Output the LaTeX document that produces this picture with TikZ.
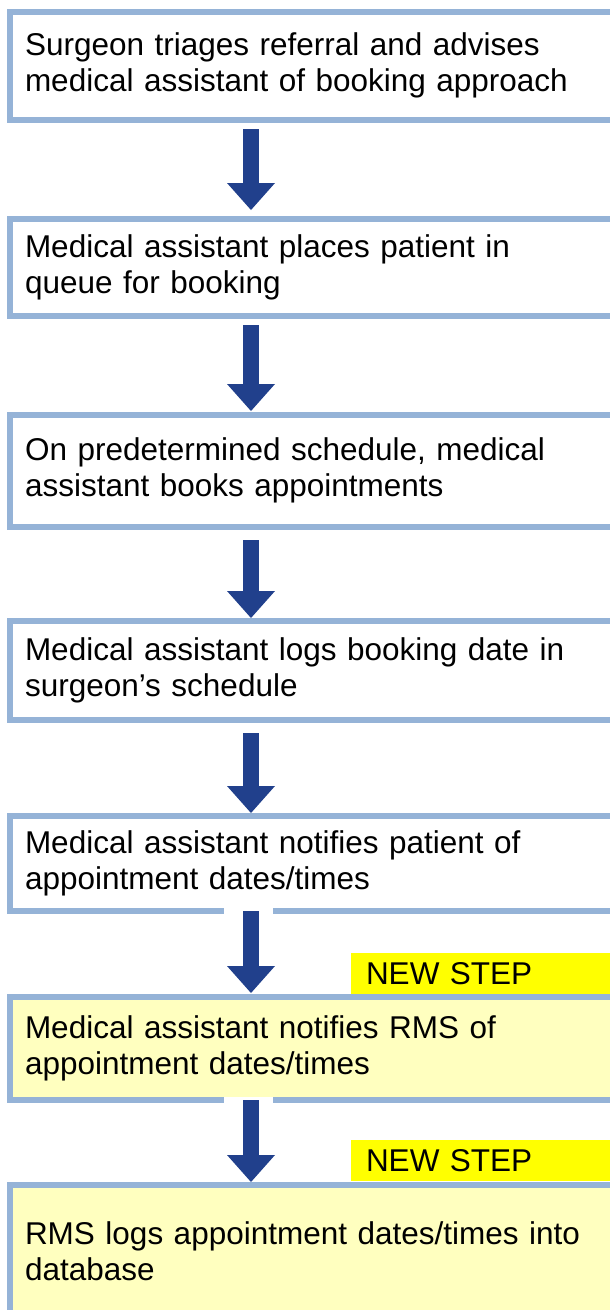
\documentclass[tikz,border=0pt]{standalone}
\usepackage{fontspec}
\setmainfont{Liberation Sans}
\usetikzlibrary{arrows.meta}

\definecolor{boxblue}{RGB}{149,179,215}
\definecolor{arrowblue}{RGB}{33,64,140}
\definecolor{paleyellow}{RGB}{255,255,191}
\definecolor{tagyellow}{RGB}{255,255,0}

\tikzset{
	stepbox/.style={rectangle, draw=boxblue, line width=6pt, fill=white, anchor=north west, outer sep=0pt,
		text width=580pt, inner xsep=15pt, inner ysep=0pt, align=left, font=\fontsize{31.5}{36}\selectfont},
	newbox/.style={stepbox, fill=paleyellow},
	tagbox/.style={rectangle, fill=tagyellow, anchor=north west, outer sep=0pt, minimum height=41pt,
		text width=250pt, inner xsep=15pt, inner ysep=0pt, align=left, font=\fontsize{31.5}{36}\selectfont},
	flow/.style={arrowblue, line width=16pt, -{Triangle[width=48pt, length=27pt, line width=0pt]}}
}

\begin{document}
\begin{tikzpicture}[x=1pt, y=-1pt]
	\useasboundingbox (0,0) rectangle (610,1310);
	\clip (0,0) rectangle (610,1310);
	
	\node[stepbox, minimum height=107.5pt] (s1) at (10,12) {Surgeon triages referral and advises\\medical assistant of booking approach};
	\node[stepbox, minimum height=97.5pt] (s2) at (10,218.5) {Medical assistant places patient in\\queue for booking};
	\node[stepbox, minimum height=112.5pt] (s3) at (10,414.5) {On predetermined schedule, medical\\assistant books appointments};
	\node[stepbox, minimum height=99pt] (s4) at (10,621) {Medical assistant logs booking date in\\surgeon's schedule};
	\node[stepbox, minimum height=95pt] (s5) at (10,816) {Medical assistant notifies patient of\\appointment dates/times};
	\node[newbox, minimum height=103pt] (s6) at (10,997) {Medical assistant notifies RMS of\\appointment dates/times};
	\node[newbox, minimum height=133pt] (s7) at (10,1184.5) {RMS logs appointment dates/times into\\database};
	
	\node[tagbox] (t6) at (351,953) {NEW STEP};
	\node[tagbox] (t7) at (351,1140) {NEW STEP};
	
	\draw[flow, shorten <=9.5pt, shorten >=8.5pt] ([xshift=241pt]s1.south west) -- ([xshift=241pt]s2.north west);
	\draw[flow, shorten <=9pt, shorten >=3.5pt] ([xshift=241pt]s2.south west) -- ([xshift=241pt]s3.north west);
	\draw[flow, shorten <=13pt, shorten >=3pt] ([xshift=241pt]s3.south west) -- ([xshift=241pt]s4.north west);
	\draw[flow, shorten <=13pt, shorten >=3pt] ([xshift=241pt]s4.south west) -- ([xshift=241pt]s5.north west);
	\fill[white] ([xshift=214pt, yshift=3pt]s5.south west) rectangle ++(49,6);
	\draw[flow, shorten >=4pt] ([xshift=241pt]s5.south west) -- ([xshift=241pt]s6.north west);
	\fill[white] ([xshift=214pt, yshift=3pt]s6.south west) rectangle ++(49,6);
	\draw[flow, shorten >=2.5pt] ([xshift=241pt]s6.south west) -- ([xshift=241pt]s7.north west);
\end{tikzpicture}
\end{document}
